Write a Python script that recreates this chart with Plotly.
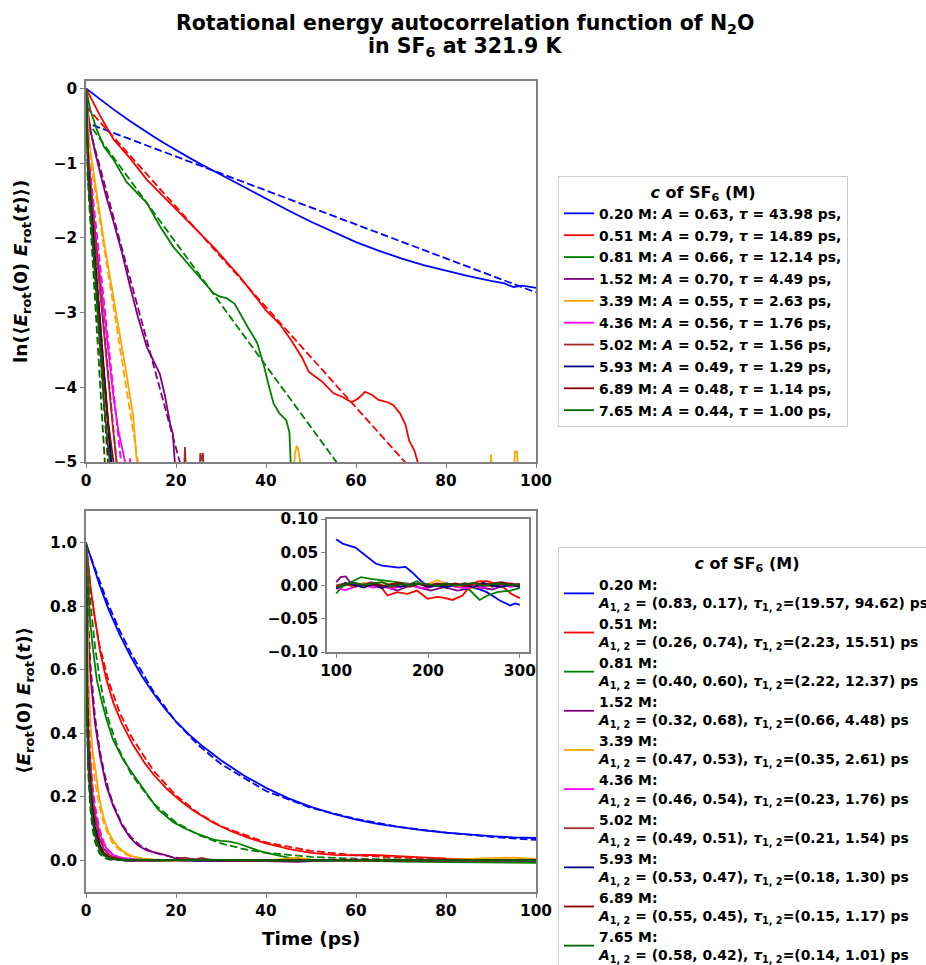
import plotly.graph_objects as go

conc = ["0.20", "0.51", "0.81", "1.52", "3.39", "4.36", "5.02", "5.93", "6.89", "7.65"]
colors = ["blue", "red", "green", "purple", "orange", "magenta", "brown", "navy", "darkred", "darkgreen"]

# single-exponential fit parameters (top legend)
fit_A = [0.63, 0.79, 0.66, 0.70, 0.55, 0.56, 0.52, 0.49, 0.48, 0.44]
fit_tau = [43.98, 14.89, 12.14, 4.49, 2.63, 1.76, 1.56, 1.29, 1.14, 1.00]

# bi-exponential fit parameters (bottom legend)
fit_A1 = [0.83, 0.26, 0.40, 0.32, 0.47, 0.46, 0.49, 0.53, 0.55, 0.58]
fit_A2 = [0.17, 0.74, 0.60, 0.68, 0.53, 0.54, 0.51, 0.47, 0.45, 0.42]
fit_tau1 = [19.57, 2.23, 2.22, 0.66, 0.35, 0.23, 0.21, 0.18, 0.15, 0.14]
fit_tau2 = [94.62, 15.51, 12.37, 4.48, 2.61, 1.76, 1.54, 1.30, 1.17, 1.01]

# ---- top panel: ln of ACF (solid) ----
ln_t = [
    [0, 2, 6.1, 10, 12.5, 15, 17.5, 20, 23, 26, 30, 35, 40, 45, 50, 55, 60, 65, 70, 75, 80, 85, 90, 93, 95, 97, 100],
    [0, 1, 3, 6.1, 10, 13.5, 20.9, 28.3, 34.2, 40, 43, 45.6, 48, 49.5, 51, 52.6, 55, 57, 59, 60.5, 62, 63.5, 65, 67, 68.3, 69.8, 71, 71.8, 73, 73.7, 74.2],
    [0, 0.5, 1, 2.4, 4, 6.1, 9, 13.5, 16.5, 19.4, 22, 24.6, 28.3, 29.5, 31.3, 33, 34.2, 36, 38, 39.4, 40.5, 41.7, 43, 44.5, 45.2, 45.5, 45.7],
    [0, 0.2, 0.5, 1, 2, 3.1, 4.5, 6.1, 8, 9.8, 11.5, 13.5, 15, 16.4, 17.5, 18.7, 19.3, 19.8, 20.2],
    [0, 0.3, 0.6, 1, 2, 3, 4, 5, 6.1, 7, 8, 9, 9.8, 10.5, 11.3, 11.6, None, 46.0, 46.4, 46.8, 47.1, 47.5, 48.0, None, 89.7, 90.0, 90.3, None, 95.0, 95.3, 95.8, 96.1],
    [0, 0.2, 0.5, 1, 2, 3.1, 4, 5, 6.1, 7.2, 8, 8.7, 9, None, 9.6, 9.8, 10.0],
    [0, 0.2, 0.5, 1, 2, 3, 4, 5, 6, 6.8, 7.1, None, 21.7, 22.0, 22.3, None, 25.2, 25.4, 25.7, 26.0, 26.2],
    [0, 0.2, 0.5, 1, 2, 3, 4, 5, 5.7, 6],
    [0, 0.2, 0.5, 1, 2, 3, 4, 5, 6.1, 6.4],
    [0, 0.2, 0.5, 1, 2, 3, 4, 5, 5.3, 5.6],
]
ln_y = [
    [0, -0.094, -0.28, -0.446, -0.548, -0.644, -0.738, -0.828, -0.929, -1.027, -1.155, -1.317, -1.478, -1.634, -1.784, -1.924, -2.056, -2.17, -2.273, -2.364, -2.442, -2.513, -2.577, -2.61, -2.66, -2.64, -2.67],
    [0, -0.12, -0.35, -0.68, -0.95, -1.22, -1.67, -2.12, -2.52, -2.97, -3.15, -3.37, -3.6, -3.79, -3.86, -3.93, -4.08, -4.13, -4.2, -4.15, -4.06, -4.1, -4.17, -4.2, -4.24, -4.35, -4.5, -4.71, -4.85, -5.0, -5.4],
    [0, -0.18, -0.3, -0.55, -0.78, -0.95, -1.25, -1.53, -1.85, -2.12, -2.3, -2.48, -2.74, -2.78, -2.81, -2.88, -3.01, -3.2, -3.4, -3.68, -3.95, -4.22, -4.35, -4.44, -4.6, -5.0, -5.3],
    [0, -0.15, -0.35, -0.55, -0.85, -1.12, -1.45, -1.78, -2.2, -2.65, -3.05, -3.46, -3.65, -3.82, -4.1, -4.49, -4.62, -5.0, -5.4],
    [0, -0.33, -0.6, -0.85, -1.22, -1.65, -2.05, -2.42, -2.79, -3.12, -3.47, -3.82, -4.13, -4.4, -5.0, -5.3, None, -5.3, -4.9, -4.78, -4.82, -4.95, -5.3, None, -5.3, -4.9, -5.3, None, -5.3, -4.86, -4.86, -5.3],
    [0, -0.5, -0.9, -1.25, -1.9, -2.5, -3.0, -3.55, -4.13, -4.58, -4.8, -5.0, -5.3, None, -5.3, -4.95, -5.3],
    [0, -0.55, -1.0, -1.35, -2.0, -2.7, -3.35, -4.0, -4.55, -5.0, -5.3, None, -5.3, -4.8, -5.3, None, -5.3, -4.88, -4.98, -4.88, -5.3],
    [0, -0.6, -1.1, -1.5, -2.25, -3.0, -3.8, -4.5, -5.0, -5.3],
    [0, -0.65, -1.15, -1.6, -2.4, -3.2, -3.9, -4.5, -5.0, -5.3],
    [0, -0.7, -1.2, -1.65, -2.55, -3.4, -4.2, -4.85, -5.0, -5.3],
]
# ---- top panel: linear fits (dashed) ----
ln_fit_t = [
    [1.5, 100], [0, 74], [0, 56.5], [0.7, 21.2], [0.3, 11.8],
    [0.3, 8.1], [0.3, 7.0], [0.3, 6.0], [0.3, 5.0], [0.3, 4.3],
]
ln_fit_y = [
    [-0.49, -2.73], [-0.24, -5.21], [-0.42, -5.07], [-0.52, -5.08], [-0.71, -5.09],
    [-0.75, -5.18], [-0.84, -5.14], [-0.94, -5.36], [-0.99, -5.12], [-1.12, -5.12],
]

# ---- bottom panel: ACF (solid) ----
acf_t = [
    [0, 1, 2, 3, 5, 7.5, 10, 12.5, 15, 17.5, 20, 23, 26, 30, 35, 40, 45, 50, 55, 60, 65, 70, 75, 80, 85, 90, 95, 100],
    [0, 0.5, 1, 2, 3.1, 4.5, 6.1, 8, 10.5, 13, 15, 18, 20.9, 24, 28.3, 32, 36, 40, 45, 50, 55, 60, 62, 65, 70, 75, 80, 90, 100],
    [0, 0.5, 0.9, 1.5, 2.4, 3.5, 4.6, 6, 8.3, 10.5, 13.5, 16, 19.4, 22, 25, 28.3, 30, 32, 34, 36, 38, 40, 43, 46, 50, 55, 60, 70, 80, 90, 100],
    [0, 0.2, 0.5, 1, 2, 3.1, 4.5, 6.1, 8, 9.8, 11.5, 13.5, 15, 16.4, 17.5, 18.7, 20, 22, 25, 30, 35, 40, 45, 47, 50, 55, 60, 70, 80, 90, 100],
    [0, 0.3, 0.6, 1, 1.5, 2, 3, 4, 5, 6.1, 7, 8, 10, 12, 15, 18, 20, 25, 30, 40, 47, 50, 60, 70, 80, 90, 95, 100],
    [0, 0.2, 0.5, 1, 1.5, 2, 3.1, 4, 5, 6.1, 7.2, 8.7, 10, 12, 15, 20, 30, 40, 60, 80, 100],
    [0, 0.2, 0.5, 1, 1.5, 2, 3, 4, 5, 6, 6.8, 8, 10, 15, 20, 22, 24, 25.7, 28, 35, 50, 70, 100],
    [0, 0.2, 0.5, 1, 1.5, 2, 3, 4, 5, 5.7, 7, 9, 12, 18, 25, 35, 50, 70, 100],
    [0, 0.2, 0.5, 1, 1.5, 2, 3, 4, 5, 6.1, 8, 10, 15, 22, 30, 45, 60, 80, 100],
    [0, 0.2, 0.5, 1, 1.5, 2, 3, 4, 5, 5.3, 7, 9, 12, 16, 20, 30, 40, 60, 80, 100],
]
acf_y = [
    [1.0, 0.955, 0.91, 0.868, 0.79, 0.71, 0.64, 0.578, 0.525, 0.478, 0.437, 0.395, 0.358, 0.315, 0.268, 0.228, 0.195, 0.168, 0.146, 0.128, 0.114, 0.103, 0.094, 0.087, 0.081, 0.076, 0.072, 0.07],
    [1.0, 0.916, 0.86, 0.76, 0.66, 0.57, 0.495, 0.43, 0.362, 0.307, 0.27, 0.224, 0.188, 0.155, 0.118, 0.093, 0.071, 0.053, 0.036, 0.023, 0.017, 0.0155, 0.017, 0.016, 0.012, 0.008, 0.005, 0.002, 0.0],
    [1.0, 0.84, 0.758, 0.67, 0.568, 0.5, 0.442, 0.38, 0.316, 0.27, 0.21, 0.16, 0.12, 0.1, 0.082, 0.065, 0.061, 0.059, 0.052, 0.041, 0.032, 0.023, 0.014, 0.005, 0.002, 0.0, -0.002, -0.004, -0.006, -0.007, -0.008],
    [1.0, 0.86, 0.70, 0.58, 0.43, 0.33, 0.235, 0.169, 0.11, 0.071, 0.047, 0.031, 0.026, 0.022, 0.017, 0.011, 0.006, 0.003, 0.001, 0.0, -0.001, -0.002, -0.004, -0.005, -0.003, 0.0, 0.001, 0.0, -0.002, 0.0, 0.0],
    [1.0, 0.72, 0.55, 0.43, 0.34, 0.295, 0.19, 0.13, 0.088, 0.061, 0.044, 0.031, 0.014, 0.006, 0.001, -0.003, -0.002, 0.0, 0.001, -0.001, 0.008, 0.002, 0.0, 0.001, 0.002, 0.007, 0.008, 0.004],
    [1.0, 0.61, 0.41, 0.29, 0.2, 0.15, 0.082, 0.05, 0.029, 0.016, 0.01, 0.0067, 0.005, 0.0, -0.002, 0.001, -0.003, 0.0, 0.002, -0.001, 0.0],
    [1.0, 0.58, 0.37, 0.26, 0.18, 0.135, 0.067, 0.035, 0.018, 0.011, 0.0067, 0.003, 0.0, -0.002, 0.001, 0.008, 0.002, 0.0075, 0.0, -0.002, 0.001, -0.001, 0.0],
    [1.0, 0.55, 0.33, 0.22, 0.15, 0.105, 0.05, 0.022, 0.011, 0.0067, 0.002, -0.002, 0.0, 0.001, -0.002, 0.0, -0.001, 0.001, 0.0],
    [1.0, 0.52, 0.32, 0.2, 0.13, 0.09, 0.041, 0.02, 0.011, 0.0067, 0.002, -0.001, 0.0, 0.002, -0.001, 0.001, 0.0, 0.001, 0.0],
    [1.0, 0.5, 0.3, 0.19, 0.12, 0.078, 0.033, 0.015, 0.0078, 0.0067, 0.003, 0.001, 0.002, -0.001, 0.0, 0.001, -0.001, 0.0, -0.001, 0.0],
]
# ---- bottom panel: bi-exponential fits (dashed) ----
acf_fit_t = [
    [1, 3, 5, 7.5, 10, 15, 20, 25, 30, 40, 50, 60, 70, 80, 90, 100],
    [0, 0.5, 1, 2, 3, 5, 7.5, 10, 15, 20, 25, 30, 40, 50, 60, 70, 80, 90, 100],
    [0, 0.5, 1, 2, 3, 4, 5, 7, 10, 15, 20, 25, 30, 35, 40, 50, 60, 70, 80, 100],
    [0, 0.25, 0.5, 1, 1.5, 2, 3, 4, 5, 6, 8, 10, 12, 15, 20, 25, 30, 40, 60, 100],
    [0, 0.25, 0.5, 1, 1.5, 2, 3, 4, 5, 6, 8, 10, 15, 20, 40, 100],
    [0, 0.1, 0.25, 0.5, 1, 1.5, 2, 3, 4, 5, 6, 8, 10, 20, 100],
    [0, 0.1, 0.25, 0.5, 1, 1.5, 2, 3, 4, 5, 6, 8, 10, 20, 100],
    [0, 0.1, 0.25, 0.5, 1, 1.5, 2, 3, 4, 5, 6, 8, 10, 100],
    [0, 0.1, 0.25, 0.5, 1, 1.5, 2, 3, 4, 5, 6, 8, 100],
    [0, 0.1, 0.25, 0.5, 1, 1.5, 2, 3, 4, 5, 6, 100],
]
acf_fit_y = [
    [0.957, 0.877, 0.804, 0.723, 0.652, 0.531, 0.436, 0.362, 0.303, 0.218, 0.165, 0.13, 0.104, 0.087, 0.074, 0.064],
    [1.0, 0.928, 0.860, 0.757, 0.678, 0.564, 0.465, 0.391, 0.282, 0.204, 0.148, 0.107, 0.056, 0.0295, 0.0155, 0.0081, 0.0043, 0.0022, 0.0012],
    [1.0, 0.896, 0.808, 0.673, 0.574, 0.500, 0.443, 0.358, 0.272, 0.179, 0.119, 0.0795, 0.0531, 0.0354, 0.0236, 0.0105, 0.0047, 0.0021, 0.0009, 0.0002],
    [1.0, 0.862, 0.758, 0.614, 0.520, 0.451, 0.352, 0.279, 0.223, 0.178, 0.114, 0.073, 0.0467, 0.0239, 0.0078, 0.0026, 0.0008, 0.0001, 0.0, 0.0],
    [1.0, 0.712, 0.550, 0.388, 0.305, 0.248, 0.168, 0.1145, 0.078, 0.0532, 0.0247, 0.0115, 0.0017, 0.0003, 0.0, 0.0],
    [1.0, 0.808, 0.624, 0.459, 0.312, 0.231, 0.173, 0.0982, 0.0556, 0.0315, 0.0179, 0.0057, 0.0018, 0.0, 0.0],
    [1.0, 0.782, 0.583, 0.414, 0.271, 0.193, 0.139, 0.0727, 0.038, 0.0198, 0.0104, 0.0028, 0.0008, 0.0, 0.0],
    [1.0, 0.739, 0.520, 0.353, 0.220, 0.149, 0.101, 0.0468, 0.0217, 0.010, 0.0047, 0.001, 0.0002, 0.0],
    [1.0, 0.696, 0.467, 0.313, 0.192, 0.125, 0.0815, 0.0347, 0.0147, 0.0063, 0.0027, 0.0005, 0.0],
    [1.0, 0.664, 0.425, 0.272, 0.157, 0.0951, 0.058, 0.0216, 0.008, 0.003, 0.0011, 0.0],
]

# ---- inset: long-time tail ----
inset_grid = [100, 110, 120, 130, 140, 150, 160, 170, 180, 190, 200, 210, 220, 230, 240, 250, 260, 270, 280, 290, 300]
inset_t = [
    [100, 107, 121, 134, 143, 150, 159, 168, 175.5, 182.6, 191.7, 197.3, 205, 215, 225, 235, 245, 255, 264, 272, 278.7, 289.5, 295, 300],
    [100, 110, 120, 130, 140, 150, 155.7, 166.5, 177.4, 188, 199.6, 210, 217.7, 226.8, 237.6, 244.8, 253.8, 264.7, 275, 282.5, 290, 300],
    [100, 105, 116, 127, 137.6, 152, 166.5, 181, 188, 195.3, 210, 225, 238, 246, 256.2, 264.7, 275.5, 290, 300],
    [100, 105, 110.5, 116, 126.8, 137.6, 155.7, 166.5, 181, 203, 217.7, 232, 253.8, 270, 282.5, 300],
    inset_grid, inset_grid, inset_grid, inset_grid, inset_grid, inset_grid,
]
inset_y = [
    [0.0695, 0.063, 0.057, 0.043, 0.033, 0.030, 0.029, 0.027, 0.028, 0.020, 0.0075, 0.0015, 0.0, -0.002, 0.0, -0.001, -0.003, -0.005, -0.010, -0.017, -0.023, -0.030, -0.027, -0.029],
    [-0.002, 0.001, -0.001, 0.002, 0.0, -0.004, -0.015, -0.010, -0.0126, -0.0076, -0.020, -0.017, -0.0186, -0.0217, -0.015, -0.0025, 0.006, 0.0065, 0.002, -0.003, -0.012, -0.019],
    [-0.012, -0.0035, 0.005, 0.0126, 0.010, 0.0076, 0.005, 0.0025, 0.0065, 0.0, 0.001, -0.001, 0.0, -0.0076, -0.0217, -0.015, -0.010, -0.0076, -0.0035],
    [0.005, 0.0126, 0.0136, 0.0035, -0.0015, 0.005, -0.0025, -0.0076, 0.0, -0.0076, -0.0025, -0.0076, -0.0025, -0.006, 0.0, 0.0025],
    [-0.002, 0.003, -0.001, 0.004, 0.002, 0.005, 0.001, 0.003, 0.0, 0.004, 0.002, 0.008, 0.003, -0.002, -0.003, -0.004, 0.001, 0.003, -0.002, 0.001, 0.0],
    [-0.004, -0.007, -0.002, 0.001, -0.003, -0.001, -0.005, -0.002, 0.002, -0.003, -0.004, 0.001, 0.003, -0.002, -0.004, -0.001, -0.003, 0.002, 0.001, -0.002, 0.001],
    [0.0, 0.003, -0.002, 0.002, 0.004, 0.0, -0.003, 0.002, 0.001, 0.003, -0.002, 0.001, 0.003, -0.001, 0.004, 0.0, 0.004, -0.002, 0.002, 0.003, 0.001],
    [-0.005, 0.004, 0.001, -0.003, 0.002, -0.004, 0.002, -0.002, 0.001, 0.003, -0.002, 0.0, -0.003, 0.002, 0.001, -0.003, 0.004, 0.0, -0.002, 0.001, -0.002],
    [-0.002, 0.002, 0.004, 0.0, 0.003, -0.001, 0.002, 0.004, -0.002, 0.002, 0.0, 0.003, 0.001, 0.003, -0.001, 0.004, 0.001, 0.003, 0.005, 0.002, 0.0],
    [-0.003, 0.002, 0.004, 0.001, 0.003, 0.005, -0.001, 0.002, 0.0, 0.003, 0.002, -0.001, 0.003, 0.0, 0.002, 0.004, -0.001, 0.002, 0.003, 0.0, 0.002],
]

W, H = 926, 965
FONT = "DejaVu Sans"
DASH = "7.7px,3.3px"
LW = 1.8


def px(x):
    return x / W


def py(y):
    return 1 - y / H


fig = go.Figure()

for i, c in enumerate(conc):
    col = colors[i]
    top_label = f"{c} M: <i>A</i> = {fit_A[i]:.2f}, <i>τ</i> = {fit_tau[i]:.2f} ps,"
    fig.add_trace(go.Scatter(x=ln_t[i], y=ln_y[i], mode="lines", name=top_label,
                             line=dict(color=col, width=LW), legend="legend",
                             legendgroup=f"t{i}", connectgaps=False,
                             xaxis="x", yaxis="y"))
    fig.add_trace(go.Scatter(x=ln_fit_t[i], y=ln_fit_y[i], mode="lines", showlegend=False,
                             line=dict(color=col, width=LW, dash=DASH), legendgroup=f"t{i}",
                             xaxis="x", yaxis="y"))

for i, c in enumerate(conc):
    col = colors[i]
    bot_label = (f"{c} M:<br><i>A</i><sub>1, 2</sub> = ({fit_A1[i]:.2f}, {fit_A2[i]:.2f}), "
                 f"<i>τ</i><sub>1, 2</sub>=({fit_tau1[i]:.2f}, {fit_tau2[i]:.2f}) ps")
    fig.add_trace(go.Scatter(x=acf_t[i], y=acf_y[i], mode="lines", name=bot_label,
                             line=dict(color=col, width=LW), legend="legend2",
                             legendgroup=f"b{i}", xaxis="x2", yaxis="y2"))
    fig.add_trace(go.Scatter(x=acf_fit_t[i], y=acf_fit_y[i], mode="lines", showlegend=False,
                             line=dict(color=col, width=LW, dash=DASH), legendgroup=f"b{i}",
                             xaxis="x2", yaxis="y2"))

for i, c in enumerate(conc):
    fig.add_trace(go.Scatter(x=inset_t[i], y=inset_y[i], mode="lines", showlegend=False,
                             line=dict(color=colors[i], width=LW), legendgroup=f"b{i}",
                             xaxis="x3", yaxis="y3"))

axis_common = dict(showline=True, linecolor="#808080", linewidth=1.5, mirror=True,
                   ticks="outside", tickcolor="#808080", ticklen=4, tickwidth=1.3,
                   showgrid=False, zeroline=False,
                   tickfont=dict(family=FONT, size=15.3, color="black", weight="bold"))

xdom = [px(86), px(536)]
fig.update_layout(
    width=W, height=H,
    margin=dict(l=0, r=0, t=0, b=0, autoexpand=False),
    paper_bgcolor="white", plot_bgcolor="white",
    font=dict(family=FONT, color="black", weight="bold"),
    xaxis=dict(domain=xdom, range=[0, 100], tickvals=[0, 20, 40, 60, 80, 100], anchor="y", **axis_common),
    yaxis=dict(domain=[py(462), py(81)], range=[-5, 0.1], tickvals=[-5, -4, -3, -2, -1, 0], anchor="x", **axis_common),
    xaxis2=dict(domain=xdom, range=[0, 100], tickvals=[0, 20, 40, 60, 80, 100], anchor="y2", **axis_common),
    yaxis2=dict(domain=[py(892), py(511)], range=[-0.1, 1.1], tickvals=[0, 0.2, 0.4, 0.6, 0.8, 1.0],
                tickformat=".1f", anchor="x2", **axis_common),
    xaxis3=dict(domain=[px(327), px(529)], range=[90, 310], tickvals=[100, 200, 300], anchor="y3", **axis_common),
    yaxis3=dict(domain=[py(652), py(519)], range=[-0.1, 0.1], tickvals=[-0.1, -0.05, 0, 0.05, 0.1],
                tickformat=".2f", anchor="x3", **axis_common),
    legend=dict(x=px(558), y=py(176), xanchor="left", yanchor="top", xref="paper", yref="paper",
                bgcolor="white", bordercolor="#cccccc", borderwidth=1, tracegroupgap=0.8,
                font=dict(family=FONT, size=13.9, color="black", weight="bold"),
                title=dict(text="<i>c</i> of SF<sub>6</sub> (M)", side="top center",
                           font=dict(family=FONT, size=16, color="black", weight="bold"))),
    legend2=dict(x=px(558), y=py(547), xanchor="left", yanchor="top", xref="paper", yref="paper",
                 bgcolor="white", bordercolor="#cccccc", borderwidth=1, tracegroupgap=0,
                 font=dict(family=FONT, size=13.9, color="black", weight="bold"),
                 title=dict(text="<i>c</i> of SF<sub>6</sub> (M)", side="top center",
                            font=dict(family=FONT, size=16, color="black", weight="bold"))),
)

title_font = dict(family=FONT, size=20.5, color="black", weight="bold")
fig.add_annotation(x=px(465), y=py(24), xref="paper", yref="paper", xanchor="center", yanchor="middle",
                   showarrow=False, text="Rotational energy autocorrelation function of N<sub>2</sub>O",
                   font=title_font)
fig.add_annotation(x=px(465), y=py(47), xref="paper", yref="paper", xanchor="center", yanchor="middle",
                   showarrow=False, text="in SF<sub>6</sub> at 321.9 K", font=title_font)

ann_font = dict(family=FONT, size=18.5, color="black", weight="bold")
fig.add_annotation(x=px(22), y=py(271), xref="paper", yref="paper", textangle=-90, showarrow=False,
                   xanchor="center", yanchor="middle",
                   text="ln(⟨<i>E</i><sub>rot</sub>(0) <i>E</i><sub>rot</sub>(<i>t</i>)⟩)", font=ann_font)
fig.add_annotation(x=px(25), y=py(701), xref="paper", yref="paper", textangle=-90, showarrow=False,
                   xanchor="center", yanchor="middle",
                   text="⟨<i>E</i><sub>rot</sub>(0) <i>E</i><sub>rot</sub>(<i>t</i>)⟩", font=ann_font)
fig.add_annotation(x=px(311), y=py(938), xref="paper", yref="paper", showarrow=False,
                   xanchor="center", yanchor="middle", text="Time (ps)", font=ann_font)

fig.write_html("out.html")
